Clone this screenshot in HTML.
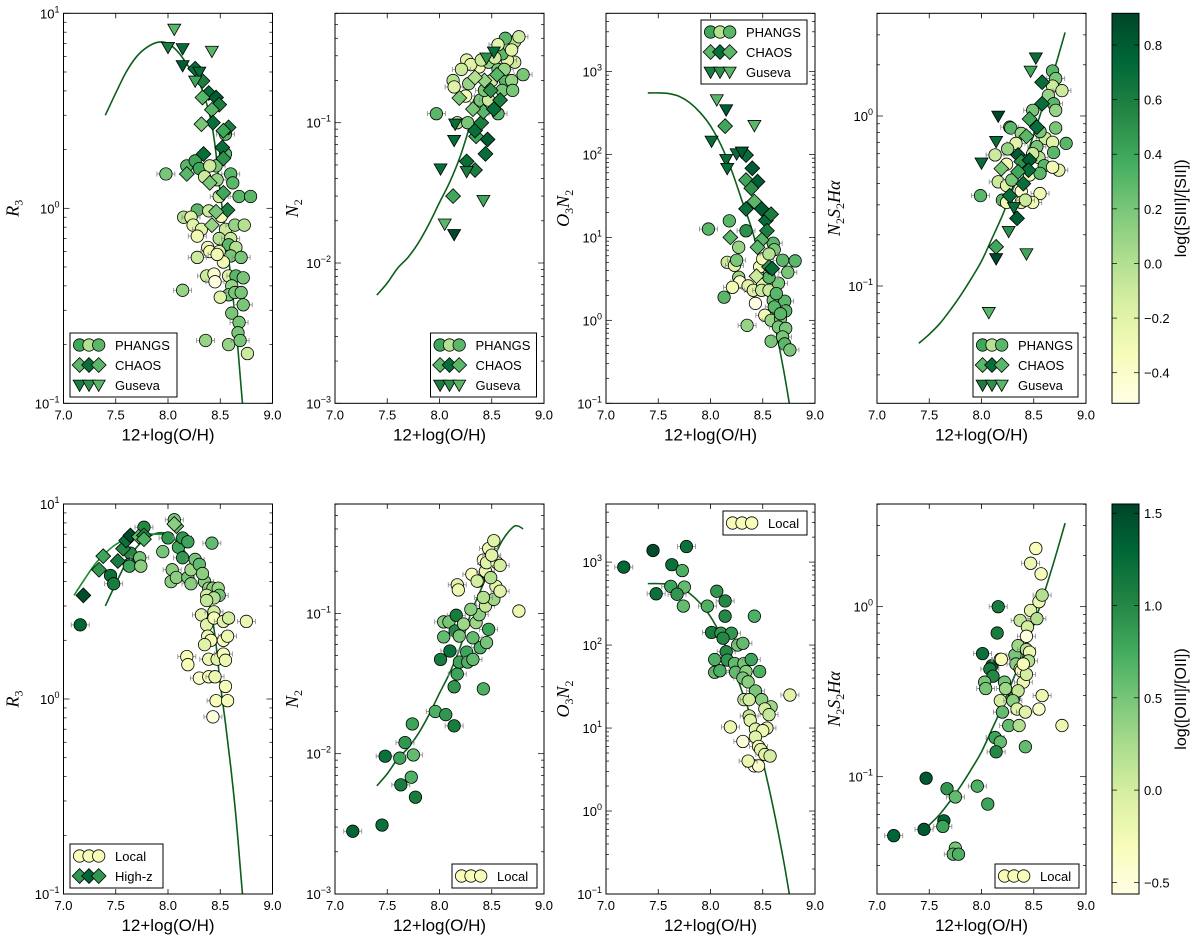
<!DOCTYPE html>
<html><head><meta charset="utf-8"><style>
html,body{margin:0;padding:0;background:#fff;}
svg{display:block;font-family:"Liberation Sans",sans-serif;}
</style></head><body>
<svg id="fig" width="1200" height="939" viewBox="0 0 1200 939" xmlns="http://www.w3.org/2000/svg">
<defs>
<linearGradient id="cmap" x1="0" y1="1" x2="0" y2="0">
<stop offset="0" stop-color="#ffffe5"/><stop offset="0.125" stop-color="#f7fcb9"/><stop offset="0.25" stop-color="#d9f0a3"/><stop offset="0.375" stop-color="#addd8e"/><stop offset="0.5" stop-color="#78c679"/><stop offset="0.625" stop-color="#41ab5d"/><stop offset="0.75" stop-color="#238443"/><stop offset="0.875" stop-color="#006837"/><stop offset="1" stop-color="#004529"/>
</linearGradient>
</defs>
</svg>
<script>
// ---------- curves ----------
const curveR3X=[7.4,7.5,7.6,7.7,7.8,7.9,8.0,8.1,8.2,8.3,8.4,8.45,8.5,8.55,8.6,8.65,8.7,8.72];
const curveR3Y=[3.0,3.9,5.0,6.0,6.7,7.1,7.0,6.3,5.3,4.4,3.0,2.1,1.2,0.75,0.45,0.25,0.12,0.09];
const curveR3bX=[7.1,7.2,7.3,7.4,7.5,7.6,7.7,7.8,7.9,8.0,8.1];
const curveR3bY=[3.4,4.1,4.9,5.6,6.2,6.6,6.9,7.0,7.0,6.9,6.3];
const curveN2X=[7.4,7.5,7.6,7.7,7.8,7.9,8.0,8.1,8.2,8.3,8.4,8.5,8.6,8.7,8.75,8.8];
const curveN2Y=[0.0059,0.0072,0.0092,0.011,0.014,0.019,0.027,0.038,0.058,0.1,0.15,0.23,0.33,0.41,0.42,0.40];
const curveO3X=[7.4,7.5,7.6,7.7,7.8,7.9,8.0,8.1,8.2,8.3,8.4,8.5,8.6,8.7,8.76];
const curveO3Y=[550,550,540,500,420,320,220,130,65,28,12,4,1.1,0.25,0.09];
const curveNSX=[7.4,7.5,7.6,7.7,7.8,7.9,8.0,8.1,8.2,8.3,8.4,8.5,8.6,8.7,8.8];
const curveNSY=[0.046,0.052,0.06,0.072,0.088,0.11,0.14,0.19,0.26,0.37,0.52,0.78,1.2,1.9,3.1];

// ---------- Panel 1 (R3, top) ----------
const p1GuX=[8.06,8.0,8.14,8.42,8.14,8.3,8.26];
const p1GuY=[8.3,6.7,6.6,6.4,5.4,5.0,4.5];
const p1GuC=[0.3,0.6,0.7,0.3,0.8,0.7,0.4];
const p1ChX=[8.26,8.33,8.39,8.46,8.33,8.49,8.42,8.43,8.32,8.58,8.53,8.52,8.34,8.53,8.18,8.4,8.53,8.57,8.46,8.42];
const p1ChY=[5.2,4.5,3.9,3.7,3.7,3.4,3.2,2.75,2.7,2.6,2.5,2.05,1.9,1.8,1.5,1.35,1.2,0.98,0.96,0.82];
const p1ChC=[0.7,0.6,0.7,0.8,0.3,0.6,0.3,0.7,0.2,0.6,0.4,0.7,0.7,0.5,0.3,0.2,0.4,0.6,0.2,0.1];
const p1PhX=[7.98,8.18,8.26,8.3,8.55,8.55,8.46,8.4,8.6,8.62,8.47,8.35,8.68,8.79,8.49,8.28,8.39,8.15,8.22,8.24,8.32,8.55,8.64,8.73,8.28,8.49,8.6,8.38,8.58,8.65,8.4,8.49,8.28,8.6,8.7,8.53,8.37,8.44,8.45,8.58,8.65,8.72,8.14,8.61,8.58,8.5,8.64,8.7,8.72,8.61,8.68,8.67,8.36,8.58,8.69,8.76,8.47,8.51];
const p1PhY=[1.5,1.65,1.75,1.6,2.4,1.9,1.65,1.65,1.5,1.35,1.4,1.45,1.15,1.15,1.15,0.98,0.97,0.9,0.9,0.82,0.78,0.78,0.82,0.82,0.72,0.7,0.7,0.63,0.65,0.63,0.6,0.6,0.56,0.57,0.56,0.53,0.45,0.46,0.42,0.45,0.45,0.44,0.38,0.4,0.36,0.35,0.37,0.37,0.32,0.29,0.26,0.23,0.21,0.2,0.21,0.18,0.58,0.91];
const p1PhC=[0.2,0.3,0.4,0.4,0.3,0.3,0.2,-0.1,0.3,0.3,0.1,-0.1,0.3,0.3,-0.1,0.3,-0.1,0.0,-0.2,-0.2,-0.2,-0.1,0.1,0.0,-0.3,0.0,-0.1,-0.3,0.3,0.0,-0.3,-0.2,-0.1,0.2,0.2,-0.3,-0.1,-0.4,-0.5,-0.2,0.3,0.2,0.1,0.1,0.2,-0.2,0.2,0.2,0.2,0.2,0.2,0.2,0.1,0.1,0.2,-0.1,-0.3,-0.3];

// ---------- Panel 2 (N2, top) ----------
const p2GuX=[8.01,8.14,8.15,8.05,8.14,8.42,8.26,8.45,8.52];
const p2GuY=[0.047,0.075,0.098,0.019,0.016,0.028,0.045,0.29,0.32];
const p2GuC=[0.7,0.7,0.7,0.3,0.9,0.4,0.6,0.5,0.7];
const p2ChX=[8.13,8.26,8.34,8.44,8.46,8.35,8.34,8.4,8.42,8.52,8.32,8.19,8.58,8.49,8.55,8.43,8.34];
const p2ChY=[0.03,0.053,0.046,0.06,0.076,0.08,0.088,0.1,0.12,0.125,0.125,0.15,0.145,0.17,0.22,0.2,0.21];
const p2ChC=[0.4,0.7,0.6,0.7,0.8,0.4,0.7,0.6,0.3,0.7,0.2,0.2,0.6,0.5,0.3,0.1,0.0];
const p2PhX=[7.97,8.17,8.27,8.13,8.14,8.26,8.25,8.28,8.38,8.38,8.47,8.56,8.63,8.69,8.8,8.72,8.65,8.6,8.67,8.72,8.76,8.63,8.56,8.69,8.56,8.39,8.47,8.3,8.43,8.6,8.5,8.4,8.21,8.7,8.62,8.53];
const p2PhY=[0.116,0.1,0.1,0.2,0.18,0.28,0.155,0.19,0.14,0.25,0.27,0.24,0.2,0.2,0.22,0.27,0.28,0.31,0.35,0.38,0.41,0.4,0.36,0.33,0.116,0.145,0.145,0.26,0.17,0.17,0.2,0.28,0.24,0.17,0.24,0.29];
const p2PhC=[0.3,0.0,0.2,0.0,-0.2,-0.2,-0.3,0.1,-0.2,-0.3,0.1,0.2,0.3,0.1,0.2,-0.1,-0.2,0.3,0.1,0.0,-0.1,0.3,-0.2,-0.2,0.3,0.2,-0.1,-0.2,0.2,0.2,-0.1,-0.1,-0.1,0.2,0.1,-0.1];

// ---------- Panel 3 (O3N2, top) ----------
const p3GuX=[8.06,8.15,8.01,8.42,8.15,8.16,8.25,8.3];
const p3GuY=[457,346,145,224,87,68,102,107];
const p3GuC=[0.3,0.8,0.7,0.3,0.7,0.7,0.7,0.8];
const p3ChX=[8.14,8.34,8.4,8.34,8.45,8.39,8.42,8.34,8.49,8.53,8.58,8.54,8.19,8.49,8.45,8.44,8.56,8.59];
const p3ChY=[219,98,68,49,47,39,27,22,22,16,19,12,10,9.3,7.6,3.4,4.4,4.2];
const p3ChC=[0.4,0.7,0.8,0.4,0.8,0.5,0.3,0.7,0.8,0.7,0.6,0.6,0.3,0.3,0.3,-0.1,0.5,0.7];
const p3PhX=[7.98,8.18,8.34,8.27,8.6,8.61,8.69,8.81,8.74,8.16,8.23,8.27,8.28,8.36,8.41,8.13,8.21,8.5,8.49,8.56,8.65,8.43,8.52,8.6,8.71,8.72,8.58,8.67,8.65,8.72,8.35,8.58,8.69,8.71,8.76,8.47,8.56,8.63,8.61,8.67,8.25,8.5,8.56];
const p3PhY=[12.6,15.8,12,7.6,8.5,7.1,5.3,5.2,3.8,5,4.6,3.3,2.9,2.6,2.3,1.9,2.5,2.7,2.3,2.3,2.8,1.6,1.15,1.74,1.7,1.3,1.0,1.05,0.83,0.8,0.87,0.56,0.63,0.52,0.44,4.4,3.3,2.1,1.45,1.2,5.3,5.5,6.3];
const p3PhC=[0.3,0.3,0.5,0.1,0.3,0.2,0.3,0.3,0.2,-0.1,-0.2,0.1,-0.4,-0.2,-0.2,0.3,-0.3,-0.2,-0.1,-0.1,0.2,-0.5,-0.3,0.2,0.3,0.3,0.1,0.2,0.2,0.2,0.1,0.2,0.2,0.3,0.2,-0.3,0.3,0.3,0.3,0.3,0.2,-0.3,0.0];

// ---------- Panel 4 (N2S2Ha, top) ----------
const p4GuX=[8.52,8.47,8.16,8.14,8.0,8.31,8.26,8.43,8.14,8.07];
const p4GuY=[2.2,1.84,1.0,0.71,0.53,0.29,0.21,0.155,0.145,0.07];
const p4GuC=[0.7,0.4,0.9,0.7,0.7,0.7,0.5,0.4,0.9,0.3];
const p4ChX=[8.58,8.58,8.53,8.46,8.43,8.35,8.38,8.46,8.45,8.35,8.19,8.4,8.27,8.34,8.14];
const p4ChY=[1.58,1.18,0.86,0.96,0.76,0.59,0.54,0.55,0.48,0.47,0.49,0.4,0.34,0.25,0.17];
const p4ChC=[0.7,0.7,0.7,0.4,0.3,0.8,0.5,0.8,0.7,0.4,0.2,0.7,0.7,0.8,0.4];
const p4PhX=[7.99,8.68,8.71,8.68,8.77,8.64,8.69,8.71,8.49,8.71,8.27,8.81,8.61,8.68,8.53,8.69,8.55,8.6,8.74,8.68,8.13,8.24,8.16,8.24,8.29,8.2,8.24,8.38,8.56,8.38,8.49,8.28,8.38,8.56,8.33,8.25,8.46,8.56,8.42,8.49];
const p4PhY=[0.34,1.84,1.66,1.5,1.41,1.32,1.18,1.08,1.08,0.85,0.86,0.69,0.74,0.7,0.66,0.61,0.57,0.51,0.48,0.5,0.59,0.52,0.41,0.39,0.42,0.32,0.31,0.36,0.35,0.31,0.31,0.85,0.79,0.81,0.69,0.64,0.45,0.46,0.32,0.6];
const p4PhC=[0.3,0.3,0.2,-0.1,-0.1,0.1,0.3,0.1,0.2,0.2,0.3,0.3,-0.1,-0.2,0.2,0.3,0.0,0.3,-0.2,-0.3,-0.1,-0.3,-0.1,-0.2,0.2,0.3,-0.3,-0.4,-0.3,-0.2,-0.3,0.3,0.1,0.2,-0.2,0.1,-0.3,0.3,-0.1,-0.1];

// ---------- Panel 5 (R3, bottom) ----------
const b1HzX=[7.19,7.34,7.38,7.52,7.57,7.6,7.64,7.72,7.77,7.77,8.08,8.06];
const b1HzY=[3.4,4.6,5.4,5.1,5.9,6.5,6.9,6.8,6.9,6.6,7.7,7.9];
const b1HzC=[1.5,0.9,0.8,1.1,1.0,1.2,1.5,0.6,1.0,0.7,0.6,0.4];
const b1LoX=[7.16,7.45,7.48,7.64,7.63,7.63,7.73,7.74,7.77,7.95,8.0,8.03,8.04,8.08,8.06,8.1,8.14,8.19,8.14,8.19,8.22,8.22,8.26,8.3,8.35,8.33,8.42,8.39,8.43,8.48,8.49,8.37,8.44,8.37,8.32,8.37,8.44,8.44,8.53,8.58,8.75,8.38,8.41,8.53,8.57,8.35,8.18,8.19,8.39,8.47,8.53,8.55,8.3,8.39,8.45,8.55,8.46,8.57,8.43];
const b1LoY=[2.4,4.3,3.9,5.6,4.9,4.8,5.3,4.8,7.6,5.7,6.7,4.0,4.6,4.2,8.3,6.0,6.7,6.4,5.3,4.2,3.9,4.6,5.2,4.9,4.0,4.4,6.3,3.7,3.7,3.7,3.4,3.4,3.3,3.2,2.7,2.4,2.8,2.6,2.5,2.6,2.5,2.1,2.0,2.0,2.1,1.9,1.65,1.5,1.6,1.6,1.7,1.58,1.28,1.3,1.3,1.16,0.98,0.98,0.81];
const b1LoC=[1.3,1.2,1.1,1.0,0.9,0.8,0.5,0.4,1.0,0.5,0.9,0.4,0.4,0.4,0.5,0.8,0.9,0.8,0.9,0.5,0.4,0.3,0.5,0.6,0.4,0.4,0.6,0.3,0.4,0.3,0.5,0.0,0.2,0.1,-0.1,-0.1,0.0,-0.3,-0.1,0.0,-0.2,-0.2,-0.3,-0.3,-0.2,-0.1,-0.3,-0.3,-0.2,-0.1,-0.3,-0.2,-0.4,-0.3,-0.2,-0.3,-0.3,-0.3,-0.5];

// ---------- Panel 6 (N2, bottom) ----------
const b2LoX=[7.17,7.45,7.48,7.62,7.67,7.74,7.75,7.73,7.63,7.77,7.96,8.06,8.14,8.14,8.17,8.01,8.1,8.19,8.26,8.27,8.32,8.42,8.39,8.45,8.47,8.04,8.04,8.09,8.16,8.15,8.19,8.23,8.32,8.35,8.38,8.3,8.44,8.52,8.42,8.76,8.17,8.18,8.31,8.37,8.44,8.42,8.45,8.55,8.58,8.54,8.58,8.49,8.47,8.52,8.5,8.36];
const b2LoY=[0.0028,0.0031,0.0096,0.0093,0.012,0.0163,0.0098,0.0068,0.006,0.0049,0.02,0.019,0.0158,0.03,0.037,0.047,0.054,0.045,0.053,0.045,0.047,0.029,0.057,0.062,0.077,0.068,0.087,0.087,0.097,0.075,0.069,0.084,0.067,0.086,0.098,0.107,0.113,0.126,0.13,0.104,0.16,0.147,0.19,0.17,0.2,0.24,0.23,0.23,0.22,0.156,0.144,0.18,0.29,0.33,0.26,0.17];
const b2LoC=[1.3,1.2,1.2,0.8,0.9,0.8,0.6,0.7,1.1,1.1,0.7,0.9,1.1,0.9,0.8,1.1,1.2,0.8,0.8,0.7,0.6,0.7,0.7,0.5,0.8,0.6,0.4,0.5,1.1,1.0,0.5,0.3,0.6,0.3,0.4,0.4,0.1,0.3,0.2,-0.2,-0.1,-0.2,-0.3,-0.1,-0.2,-0.4,-0.1,-0.2,0.0,-0.1,-0.1,0.2,-0.2,-0.1,-0.1,0.0];

// ---------- Panel 7 (O3N2, bottom) ----------
const b3LoX=[7.17,7.45,7.48,7.63,7.77,7.73,7.62,7.75,7.68,7.74,7.97,8.06,8.14,8.14,8.01,8.1,8.2,8.12,8.15,8.04,8.16,8.04,8.09,8.23,8.24,8.26,8.31,8.32,8.39,8.42,8.34,8.47,8.31,8.36,8.43,8.32,8.37,8.49,8.76,8.58,8.37,8.52,8.56,8.38,8.19,8.43,8.54,8.5,8.31,8.43,8.46,8.48,8.52,8.57,8.42,8.46,8.36];
const b3LoY=[870,1380,415,930,1540,790,510,500,410,295,295,445,340,223,142,139,139,121,83,67,66,47,49,60,47,100,105,60,67,223,48,48,40,36,28,22,22,22,25,18,14,17,14.5,12.4,10.3,9.7,10,9.3,6.9,7.8,6,5.5,4.8,4.6,3.5,3.5,4];
const b3LoC=[1.3,1.5,1.2,1.2,1.2,0.7,0.8,0.6,0.9,0.6,0.7,0.9,1.0,1.0,1.1,0.9,0.9,1.0,1.0,0.7,0.9,0.6,0.7,0.6,0.6,0.5,0.6,0.5,0.8,0.7,0.4,0.7,0.5,0.4,0.5,0.1,0.0,0.4,-0.1,0.3,0.1,0.0,0.1,-0.1,-0.2,-0.1,-0.1,-0.2,-0.5,-0.1,-0.3,-0.1,-0.1,0.0,-0.5,-0.4,-0.2];

// ---------- Panel 8 (N2S2Ha, bottom) ----------
const b4LoX=[7.16,7.47,7.45,7.64,7.63,7.67,7.75,7.75,7.73,7.78,7.96,8.06,8.16,8.15,8.01,8.1,8.08,8.11,8.18,8.03,8.04,8.22,8.23,8.18,8.2,8.31,8.26,8.36,8.13,8.18,8.14,8.42,8.32,8.35,8.33,8.37,8.4,8.35,8.3,8.34,8.42,8.55,8.58,8.77,8.37,8.44,8.43,8.47,8.53,8.55,8.58,8.57,8.47,8.52,8.43,8.46,8.45,8.38,8.43,8.4,8.19];
const b4LoY=[0.045,0.098,0.049,0.055,0.051,0.085,0.076,0.038,0.035,0.035,0.088,0.069,1.0,0.7,0.53,0.45,0.43,0.39,0.49,0.36,0.33,0.36,0.33,0.28,0.24,0.29,0.2,0.2,0.17,0.16,0.14,0.15,0.52,0.59,0.46,0.43,0.36,0.32,0.28,0.25,0.24,0.25,0.3,0.2,0.83,0.76,0.67,0.95,0.85,1.07,1.17,1.56,1.8,2.2,0.56,0.54,0.48,0.42,0.4,0.46,0.49];
const b4LoC=[1.3,1.4,1.4,1.3,0.8,0.9,0.6,0.5,0.6,0.7,0.7,0.8,1.1,1.1,1.2,1.3,1.1,1.0,-0.2,0.5,0.5,0.5,0.3,0.0,0.6,0.8,0.6,0.2,0.8,0.6,1.0,0.6,0.5,0.3,0.4,0.1,-0.2,0.1,0.4,-0.1,-0.1,-0.4,-0.2,-0.2,0.1,0.0,-0.5,-0.1,0.2,-0.2,0.2,-0.3,-0.2,-0.3,0.2,-0.2,0.2,-0.3,0.0,-0.3,-0.3];

// ---------- tick labels ----------
const xTicks=[7.0,7.5,8.0,8.5,9.0];
const xTickLabels=["7.0","7.5","8.0","8.5","9.0"];
const cb1Ticks=[-0.4,-0.2,0.0,0.2,0.4,0.6,0.8];
const cb1Labels=["\u22120.4","\u22120.2","0.0","0.2","0.4","0.6","0.8"];
const cb2Ticks=[-0.5,0.0,0.5,1.0,1.5];
const cb2Labels=["\u22120.5","0.0","0.5","1.0","1.5"];

const NS="http://www.w3.org/2000/svg";
const svg=document.getElementById('fig');
const stops=[[0,[255,255,229]],[0.125,[247,252,185]],[0.25,[217,240,163]],[0.375,[173,221,142]],[0.5,[120,198,121]],[0.625,[65,171,93]],[0.75,[35,132,67]],[0.875,[0,104,55]],[1,[0,69,41]]];
function cmap(t){t=Math.max(0,Math.min(1,t));for(let i=1;i<stops.length;i++){if(t<=stops[i][0]){const a=stops[i-1],b=stops[i];const f=(t-a[0])/(b[0]-a[0]);const c=a[1].map((v,k)=>Math.round(v+(b[1][k]-v)*f));return 'rgb('+c.join(',')+')';}}return 'rgb(0,69,41)';}
function mk(tag,attrs,parent){const e=document.createElementNS(NS,tag);for(const k in attrs)e.setAttribute(k,attrs[k]);(parent||svg).appendChild(e);return e;}

const W=209,H=390;
const Y_R3=[-1,1],Y_N2=[-3,-0.22],Y_O3=[-1,3.70],Y_NS=[-1.69,0.604];
const CB1=[-0.512,0.916],CB2=[-0.563,1.55];

const panels=[
 {id:'r3-top',L:63.5,T:13.3,yr:Y_R3,lab:['R','3'],cb:CB1,curves:[[curveR3X,curveR3Y]],
  series:[[p1PhX,p1PhY,p1PhC,'circle','phangs'],[p1ChX,p1ChY,p1ChC,'diamond','chaos'],[p1GuX,p1GuY,p1GuC,'tri','guseva']],
  leg:{x:70,y:333,w:107,rows:[['PHANGS','circle',[0.4,0.0,0.3]],['CHAOS','diamond',[0.3,0.7,0.3]],['Guseva','tri',[0.6,0.5,0.3]]]}},
 {id:'n2-top',L:335,T:13.3,yr:Y_N2,lab:['N','2'],cb:CB1,curves:[[curveN2X.slice(0,10),curveN2Y.slice(0,10)]],
  series:[[p2PhX,p2PhY,p2PhC,'circle','phangs'],[p2ChX,p2ChY,p2ChC,'diamond','chaos'],[p2GuX,p2GuY,p2GuC,'tri','guseva']],
  leg:{x:430.5,y:333,w:106,rows:[['PHANGS','circle',[0.4,0.0,0.3]],['CHAOS','diamond',[0.3,0.7,0.3]],['Guseva','tri',[0.6,0.5,0.3]]]}},
 {id:'o3n2-top',L:606,T:13.3,yr:Y_O3,lab:['O','3','N','2'],cb:CB1,curves:[[curveO3X,curveO3Y]],
  series:[[p3PhX,p3PhY,p3PhC,'circle','phangs'],[p3ChX,p3ChY,p3ChC,'diamond','chaos'],[p3GuX,p3GuY,p3GuC,'tri','guseva']],
  leg:{x:701,y:20,w:106,rows:[['PHANGS','circle',[0.4,0.0,0.3]],['CHAOS','diamond',[0.3,0.7,0.3]],['Guseva','tri',[0.6,0.5,0.3]]]}},
 {id:'n2s2ha-top',L:877,T:13.3,yr:Y_NS,lab:['N','2','S','2','H\u03b1'],cb:CB1,curves:[[curveNSX,curveNSY]],
  series:[[p4PhX,p4PhY,p4PhC,'circle','phangs'],[p4ChX,p4ChY,p4ChC,'diamond','chaos'],[p4GuX,p4GuY,p4GuC,'tri','guseva']],
  leg:{x:973,y:333,w:105,rows:[['PHANGS','circle',[0.4,0.0,0.3]],['CHAOS','diamond',[0.3,0.7,0.3]],['Guseva','tri',[0.6,0.5,0.3]]]}},
 {id:'r3-bottom',L:63.5,T:504,yr:Y_R3,lab:['R','3'],cb:CB2,curves:[[curveR3X,curveR3Y],[curveR3bX,curveR3bY]],
  series:[[b1LoX,b1LoY,b1LoC,'circle','local'],[b1HzX,b1HzY,b1HzC,'diamond','high-z']],
  leg:{x:70,y:844,w:93,h:44,rows:[['Local','circle',[-0.3,-0.3,-0.3]],['High-z','diamond',[0.9,1.3,0.9]]]}},
 {id:'n2-bottom',L:335,T:504,yr:Y_N2,lab:['N','2'],cb:CB2,curves:[[curveN2X,curveN2Y]],
  series:[[b2LoX,b2LoY,b2LoC,'circle','local']],
  leg:{x:452,y:864,w:85,h:24,rows:[['Local','circle',[-0.3,-0.3,-0.3]]]}},
 {id:'o3n2-bottom',L:606,T:504,yr:Y_O3,lab:['O','3','N','2'],cb:CB2,curves:[[curveO3X,curveO3Y]],
  series:[[b3LoX,b3LoY,b3LoC,'circle','local']],
  leg:{x:723,y:511,w:84,h:24,rows:[['Local','circle',[-0.3,-0.3,-0.3]]]}},
 {id:'n2s2ha-bottom',L:877,T:504,yr:Y_NS,lab:['N','2','S','2','H\u03b1'],cb:CB2,curves:[[curveNSX,curveNSY]],
  series:[[b4LoX,b4LoY,b4LoC,'circle','local']],
  leg:{x:995,y:864,w:84,h:24,rows:[['Local','circle',[-0.3,-0.3,-0.3]]]}}
];

function marker(g,shape,cx,cy,fill){
 let e;
 if(shape==='circle'){e=mk('circle',{cx:cx,cy:cy,r:6.2,fill:fill,stroke:'#000','stroke-width':0.8},g);}
 else if(shape==='diamond'){const s=7.4;e=mk('polygon',{points:`${cx},${cy-s} ${cx+s},${cy} ${cx},${cy+s} ${cx-s},${cy}`,fill:fill,stroke:'#000','stroke-width':0.8},g);}
 else {const s=6.5;e=mk('polygon',{points:`${cx-s},${cy-s*0.75} ${cx+s},${cy-s*0.75} ${cx},${cy+s}`,fill:fill,stroke:'#000','stroke-width':0.8},g);}
 return e;
}
function smoothPath(pts){let d='M'+pts[0][0]+','+pts[0][1];for(let i=0;i<pts.length-1;i++){const p0=pts[i-1]||pts[i],p1=pts[i],p2=pts[i+1],p3=pts[i+2]||p2;const c1=[p1[0]+(p2[0]-p0[0])/6,p1[1]+(p2[1]-p0[1])/6],c2=[p2[0]-(p3[0]-p1[0])/6,p2[1]-(p3[1]-p1[1])/6];d+=` C${c1[0]},${c1[1]} ${c2[0]},${c2[1]} ${p2[0]},${p2[1]}`;}return d;}

panels.forEach((P,pi)=>{
 const g=mk('g',{});
 
 
 const xs=v=>P.L+(v-7)/2*W;
 const ys=v=>P.T+(P.yr[1]-Math.log10(v))/(P.yr[1]-P.yr[0])*H;
 const clipId='clip'+pi;
 const cp=mk('clipPath',{id:clipId},g);mk('rect',{x:P.L,y:P.T,width:W,height:H},cp);
 const cb=(v)=>cmap((v-P.cb[0])/(P.cb[1]-P.cb[0]));
 // curves
 P.curves.forEach((c,ci)=>{
  const pts=c[0].map((x,i)=>[xs(x),ys(c[1][i])]);
  const path=mk('path',{d:smoothPath(pts),fill:'none',stroke:ci===1?'#1a8a2a':'#0b5e1c','stroke-width':1.6,'clip-path':`url(#${clipId})`},g);
  
  
 });
 // points
 P.series.forEach(s=>{
  const sg=mk('g',{'clip-path':`url(#${clipId})`},g);
  
  
  s[0].forEach((x,i)=>{
   const cx=xs(x),cy=ys(s[1][i]);
   if(s[3]==='circle'&&i%2===0){
    const el=mk('path',{d:`M${cx-9},${cy}H${cx+9}M${cx-9},${cy-2.5}V${cy+2.5}M${cx+9},${cy-2.5}V${cy+2.5}`,stroke:'#888','stroke-width':0.8,fill:'none'},sg);
    
    
   }
   const m=marker(sg,s[3],cx,cy,cb(s[2][i]));
   
   
  });
 });
 // frame
 const fr=mk('rect',{x:P.L,y:P.T,width:W,height:H,fill:'none',stroke:'#000','stroke-width':1},g);
 
 
 // x ticks
 xTicks.forEach((t,i)=>{
  const x=xs(t);
  mk('line',{x1:x,y1:P.T+H,x2:x,y2:P.T+H-5,stroke:'#000','stroke-width':0.8},g);
  mk('line',{x1:x,y1:P.T,x2:x,y2:P.T+5,stroke:'#000','stroke-width':0.8},g);
  const tx=mk('text',{x:x,y:P.T+H+16,'font-size':13,'text-anchor':'middle'},g);tx.textContent=xTickLabels[i];
  
  
 });
 // y ticks
 const lo=Math.floor(P.yr[0]),hi=Math.ceil(P.yr[1]);
 for(let d=lo;d<=hi;d++){
  for(let m=1;m<10;m++){
   const lv=d+Math.log10(m);if(lv<P.yr[0]-1e-6||lv>P.yr[1]+1e-6)continue;
   const y=ys(Math.pow(10,lv));const len=m===1?6:3;
   mk('line',{x1:P.L,y1:y,x2:P.L+len,y2:y,stroke:'#000','stroke-width':0.7},g);
   mk('line',{x1:P.L+W,y1:y,x2:P.L+W-len,y2:y,stroke:'#000','stroke-width':0.7},g);
   if(m===1){
    const tl=mk('text',{x:P.L-4,y:y+5,'font-size':13,'text-anchor':'end'},g);
    
    
    const ex=(d<0?'\u2212':'')+Math.abs(d);
    const t1=mk('tspan',{},tl);t1.textContent='10';
    const t2=mk('tspan',{dy:-6,'font-size':9},tl);t2.textContent=ex;
    // shift so base aligns right with exponent
   }
  }
 }
 // x label
 const xl=mk('text',{x:P.L+W/2,y:P.T+H+37,'font-size':17,'text-anchor':'middle'},g);xl.textContent='12+log(O/H)';
 
 
 // y label
 const lx=pi%4===0?P.L-45:P.L-37;const ly=P.T+H/2;
 const yl=mk('text',{x:lx,y:ly,'font-size':18,'font-family':'"Liberation Serif",serif','font-style':'italic','text-anchor':'middle',transform:`rotate(-90 ${lx} ${ly})`},g);
 
 
 P.lab.forEach((s,i)=>{const sub=(i%2===1)&&s!=='H\u03b1';const t=mk('tspan',sub?{'font-size':12,'font-style':'normal',dy:4}:{dy:i>0?-4:0},yl);t.textContent=s;});
 // legend
 const L=P.leg;const lh=L.h||64;
 const lg=mk('g',{},g);
 
 
 mk('rect',{x:L.x,y:L.y,width:L.w,height:lh,fill:'#fff',stroke:'#000','stroke-width':1},lg);
 L.rows.forEach((r,ri)=>{
  const yy=L.y+12+ri*20;
  const eg=mk('g',{},lg);
  
  
  [9.6,19,28.7].forEach((ox,k)=>marker(eg,r[1],L.x+ox,yy,cb(r[2][k])));
  const t=mk('text',{x:L.x+45,y:yy+5,'font-size':13},eg);t.textContent=r[0];
 });
});

// colorbars
function colorbar(T,rng,ticks,labels,title,name){
 const g=mk('g',{});
 
 
 const X=1112,Wc=27;
 mk('rect',{x:X,y:T,width:Wc,height:H,fill:'url(#cmap)',stroke:'#000','stroke-width':1},g);
 ticks.forEach((t,i)=>{
  const y=T+(rng[1]-t)/(rng[1]-rng[0])*H;
  mk('line',{x1:X+Wc-5,y1:y,x2:X+Wc,y2:y,stroke:'#000','stroke-width':0.7},g);
  mk('line',{x1:X,y1:y,x2:X+5,y2:y,stroke:'#000','stroke-width':0.7},g);
  const tx=mk('text',{x:X+Wc+5,y:y+5,'font-size':13},g);tx.textContent=labels[i];
  
  
 });
 const lx=1186,ly=T+H/2;
 const tl=mk('text',{x:lx,y:ly,'font-size':16,'text-anchor':'middle',transform:`rotate(-90 ${lx} ${ly})`},g);tl.textContent=title;
 
 
}
colorbar(13.3,CB1,cb1Ticks,cb1Labels,'log([SIII]/[SII])','colorbar-siii-sii');
colorbar(504,CB2,cb2Ticks,cb2Labels,'log([OIII]/[OII])','colorbar-oiii-oii');
</script>
</body></html>
